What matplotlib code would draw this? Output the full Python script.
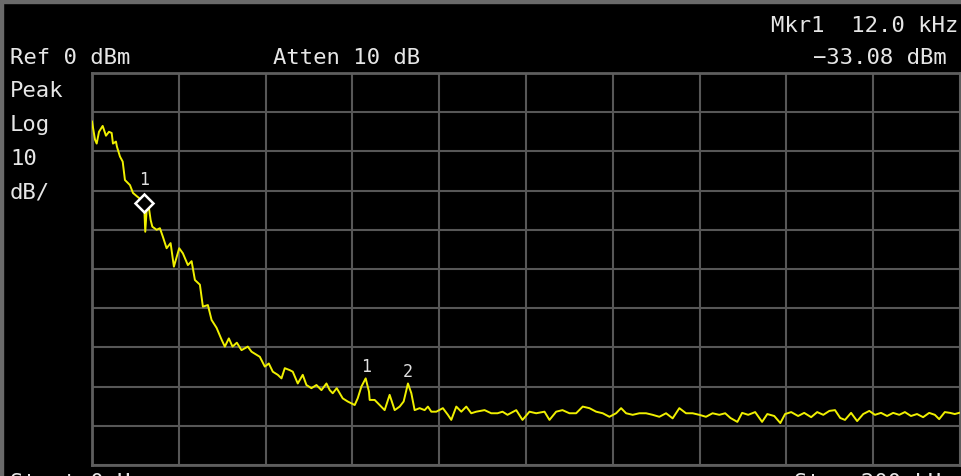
import numpy as np
import matplotlib.pyplot as plt
from matplotlib.patches import Rectangle

# Trace readout, frequency in kHz and level in dBm
freq_khz = [0.0, 0.69, 1.08, 1.61, 2.46, 3.22, 3.91, 4.53, 4.83, 5.52,
            5.75, 6.44, 7.07, 7.59, 8.75, 9.44, 10.4, 11.2, 12.0, 12.27,
            12.59, 13.12, 13.51, 13.9, 14.89, 15.65, 16.34, 17.19, 18.11, 18.87,
            20.09, 20.94, 22.09, 22.95, 23.71, 24.86, 25.55, 26.70, 27.55, 28.70,
            29.85, 30.61, 31.53, 32.38, 33.37, 34.45, 35.90, 36.76, 37.91, 38.67,
            39.82, 40.74, 41.66, 42.81, 43.66, 44.42, 45.57, 46.26, 47.41, 48.56,
            49.41, 50.56, 51.72, 52.87, 54.02, 54.78, 55.47, 56.39, 57.77, 58.92,
            60.53, 61.22, 62.07, 63.06, 63.82, 63.98, 65.13, 66.28, 67.43, 68.58,
            69.74, 70.89, 71.81, 72.80, 73.58, 74.34, 75.49, 76.64, 77.40, 78.18,
            79.33, 80.85, 82.00, 82.78, 83.94, 85.09, 86.24, 87.39, 88.54, 90.45,
            91.99, 93.44, 94.59, 95.74, 97.75, 99.19, 100.80, 102.35, 104.26, 105.41,
            106.95, 108.40, 110.01, 111.55, 113.07, 114.61, 116.16, 117.68, 119.22, 120.76,
            121.91, 123.06, 124.58, 126.12, 127.66, 129.18, 130.72, 132.27, 133.79, 135.33,
            136.87, 138.39, 139.93, 141.47, 142.99, 144.53, 145.9, 147.1, 148.7, 149.8,
            151.2, 152.8, 154.4, 155.6, 157.2, 158.6, 159.7, 161.1, 162.7, 164.1,
            165.7, 167.1, 168.5, 169.9, 171.2, 172.4, 173.5, 174.9, 176.3, 177.7,
            179.1, 180.4, 181.8, 183.2, 184.6, 186.0, 187.3, 188.7, 190.1, 191.5,
            192.9, 194.2, 195.2, 196.5, 197.7, 198.8, 199.8]

level_dbm = [-12.4, -17.0, -18.0, -15.0, -13.5, -16.0, -15.0, -15.3, -18.0, -17.5,
             -18.8, -21.3, -22.6, -27.3, -28.6, -30.6, -31.5, -32.2, -33.08, -40.5,
             -35.0, -34.5, -37.5, -39.2, -40.0, -39.6, -41.8, -44.7, -43.4, -49.4,
             -44.7, -46.0, -49.0, -48.0, -52.8, -54.0, -59.6, -59.2, -63.0, -65.0,
             -68.0, -69.8, -67.7, -69.8, -68.8, -70.7, -69.8, -71.1, -71.9, -72.4,
             -74.9, -74.1, -76.2, -77.0, -77.9, -75.3, -75.8, -76.2, -79.2, -77.0,
             -79.6, -80.4, -79.6, -80.9, -79.2, -80.9, -81.7, -80.4, -83.0, -83.8,
             -84.7, -83.0, -80.0, -77.9, -81.3, -83.4, -83.4, -84.7, -86.0, -82.1,
             -86.0, -85.1, -83.8, -79.2, -81.7, -86.0, -85.5, -86.0, -85.1, -86.4,
             -86.4, -85.5, -87.2, -88.5, -85.1, -86.4, -85.1, -86.8, -86.4, -86.0,
             -86.8, -86.8, -86.4, -87.2, -86.0, -88.5, -86.4, -86.8, -86.4, -88.5,
             -86.4, -86.0, -86.8, -86.8, -85.1, -85.5, -86.4, -86.8, -87.7, -86.8,
             -85.5, -86.8, -87.2, -86.8, -86.8, -87.2, -87.7, -86.8, -88.1, -85.5,
             -86.8, -86.8, -87.2, -87.7, -86.8, -87.2, -86.8, -88.0, -89.0, -86.7,
             -87.2, -86.5, -89.0, -87.0, -87.5, -89.3, -87.0, -86.5, -87.5, -86.7,
             -87.8, -86.5, -87.2, -86.2, -86.0, -88.0, -88.5, -86.7, -88.8, -87.0,
             -86.2, -87.2, -86.7, -87.5, -86.7, -87.2, -86.5, -87.5, -87.0, -87.8,
             -86.7, -87.2, -88.3, -86.5, -86.7, -87.0, -86.7]

# Active marker and the two peak labels
mkr_freq = 12.0
mkr_level = -33.08
peak_freqs = [63.06, 72.80]
peak_levels = [-77.9, -79.2]
peak_names = ['1', '2']

ref_level = 0
db_per_div = 10
span_khz = 200

W, H = 961, 476
fig = plt.figure(figsize=(W / 100, H / 100), dpi=100, facecolor='black')

def px(x, y):
    return x / W, 1 - y / H

# screen bezel along the top and left edge
fig.patches.append(Rectangle((0, 1 - 3 / H), 1, 3 / H, transform=fig.transFigure,
                             color='#6a6a6a', zorder=0))
fig.patches.append(Rectangle((0, 0), 3 / W, 1, transform=fig.transFigure,
                             color='#6a6a6a', zorder=0))

x0, y0 = px(92, 465)
x1, y1 = px(960, 73)
ax = fig.add_axes([x0, y0, x1 - x0, y1 - y0])
ax.set_facecolor('black')
ax.set_xlim(0, span_khz)
ax.set_ylim(ref_level - 10 * db_per_div, ref_level)
ax.set_xticks(np.arange(0, span_khz + 1, span_khz / 10))
ax.set_yticks(np.arange(ref_level - 10 * db_per_div, ref_level + 1, db_per_div))
ax.tick_params(length=0, labelbottom=False, labelleft=False)
ax.grid(True, color='#575757', linewidth=1.5)
for s in ax.spines.values():
    s.set_color('#5e5e5e')
    s.set_linewidth(2)

ax.plot(freq_khz, level_dbm, color='#f0f000', linewidth=1.4, zorder=3)

# marker diamond
ax.plot([mkr_freq], [mkr_level], marker='D', markersize=9, markerfacecolor='black',
        markeredgecolor='white', markeredgewidth=1.8, zorder=4)
ax.annotate('1', (mkr_freq, mkr_level), xytext=(0, 10), textcoords='offset points',
            ha='center', va='bottom', color='#e0e0e0', fontsize=12,
            family='DejaVu Sans Mono', zorder=5)
for f, lv, name in zip(peak_freqs, peak_levels, peak_names):
    ax.annotate(name, (f, lv), xytext=(0, 1.5), textcoords='offset points',
                ha='center', va='bottom', color='#e0e0e0', fontsize=12,
                family='DejaVu Sans Mono', zorder=5)

# annotation text around the graticule
txt = dict(color='#e6e6e6', fontsize=16, family='DejaVu Sans Mono', va='baseline')
fig.text(*px(10, 64), 'Ref 0 dBm', ha='left', **txt)
fig.text(*px(273, 64), 'Atten 10 dB', ha='left', **txt)
fig.text(*px(958, 32), 'Mkr1  12.0 kHz', ha='right', **txt)
fig.text(*px(947, 64), '\u221233.08 dBm', ha='right', **txt)
for label, base in zip(['Peak', 'Log', '10', 'dB/'], [97, 131, 165, 198]):
    fig.text(*px(10, base), label, ha='left', **txt)
# start/stop line sits below the visible screen area
fig.text(*px(10, 489), 'Start 0 Hz', ha='left', **txt)
fig.text(*px(954, 489), 'Stop 200 kHz', ha='right', **txt)

fig.savefig('out.png', dpi=100, facecolor='black')
